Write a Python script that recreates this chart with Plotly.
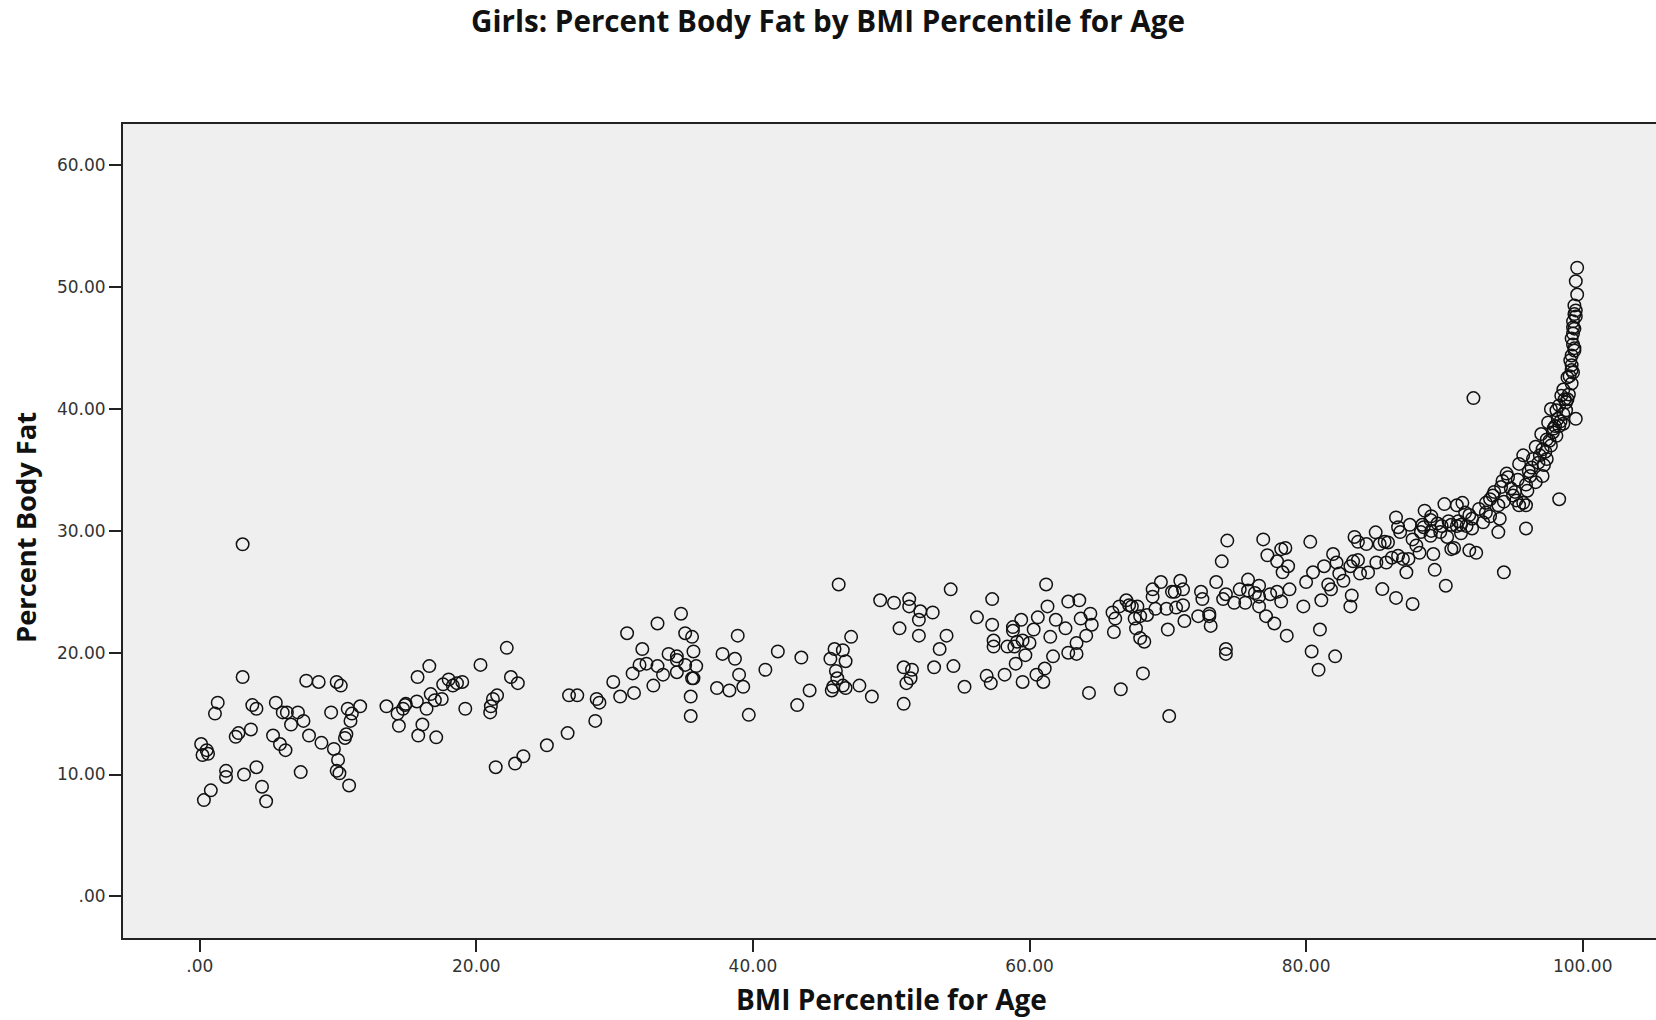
import plotly.graph_objects as go

# ---- data ----
bmi_percentile = [
    # 0-12
    0.1, 0.2, 0.5, 0.6, 0.3, 0.8, 1.1, 1.3, 1.9, 1.9, 2.6, 2.8, 3.1, 3.1, 3.2, 3.7, 3.8, 4.1, 4.1, 4.5,
    4.8, 5.3, 5.5, 5.8, 6.0, 6.2, 6.3, 6.6, 7.1, 7.3, 7.5, 7.7, 7.9, 8.6, 8.8, 9.5, 9.9, 9.7, 10.0, 9.9,
    10.1, 10.2, 10.7, 10.6, 10.5, 10.8, 10.9, 11.0, 11.6,
    # 13-25
    13.5, 14.4, 14.3, 14.7, 14.85, 14.9, 15.7, 15.75, 15.8, 16.1, 16.4, 16.6, 16.7, 17.1, 17.0, 17.5,
    17.6, 18.0, 18.3, 18.6, 18.98, 19.2, 20.3, 21.0, 21.05, 21.2, 21.5, 21.4, 22.2, 22.5, 23.0, 22.8,
    23.4,
    # 25-36
    25.1, 26.6, 26.7, 27.3, 28.6, 28.7, 28.9, 29.9, 30.4, 30.9, 31.3, 31.4, 32.0, 31.8, 32.3, 32.8,
    33.1, 33.1, 33.5, 33.9, 34.5, 34.5, 34.5, 34.8, 35.1, 35.6, 35.1, 35.7, 35.9, 35.6, 35.7, 35.5, 35.5,
    # 36-61
    37.4, 37.8, 38.3, 38.7, 38.9, 39.0, 39.3, 39.7, 40.9, 41.8, 43.2, 43.5, 44.1, 45.7, 45.8, 45.6,
    45.9, 46.0, 46.1, 46.5, 46.7, 46.5, 46.7, 47.1, 47.7, 48.6, 46.2, 49.2, 50.2, 51.3, 51.3, 52.1,
    52.0, 50.6, 52.0, 53.0, 54.3, 54.0, 53.5, 53.1, 54.5, 50.9, 51.5, 51.4, 51.1, 50.9, 55.3, 56.2,
    57.3, 57.3, 57.4, 57.4, 56.9, 57.2, 58.2, 59.5, 59.0, 58.8, 58.8, 59.4, 58.4, 58.9, 59.1, 59.5,
    59.7, 60.0, 60.3, 60.6, 60.5,
    # 61-84
    61.2, 61.3, 62.8, 63.6, 61.9, 62.6, 63.7, 64.4, 64.5, 64.1, 63.4, 63.4, 62.8, 61.7, 61.1, 61.0,
    61.5, 64.3, 66.6, 68.2, 70.1, 66.0, 66.2, 66.1, 66.5, 67.0, 67.2, 67.4, 67.8, 68.0, 68.5, 67.7,
    68.0, 68.3, 67.6, 68.9, 68.9, 69.5, 69.1, 69.9, 70.3, 70.5, 70.9, 71.1, 71.1, 70.6, 71.2, 70.0,
    72.2, 72.4, 72.5, 73.0, 73.1, 73.0, 73.5, 74.0, 74.3, 73.9, 74.2, 74.2, 74.2, 74.8, 75.2, 75.6,
    75.8, 75.8, 76.3, 76.6, 76.6, 76.6, 77.1, 77.7, 78.6, 76.9, 77.2, 77.9, 78.2, 78.5, 78.3, 78.7,
    77.4, 77.9, 78.2, 78.8, 79.8, 80.0, 80.3, 80.5, 81.1, 81.0, 80.4, 80.9, 82.1, 81.3, 81.95, 82.2,
    82.4, 81.6, 81.8, 82.7, 83.2, 83.3, 83.2, 83.5, 83.75, 83.4, 83.75, 83.9,
    # 84-93
    84.36, 85.03, 85.32, 85.68, 85.92, 84.48, 85.08, 85.51, 86.5, 87.7, 85.8, 86.2, 86.65, 86.8, 86.65,
    87.0, 87.25, 87.4, 87.7, 87.97, 88.2, 88.3, 89.05, 89.2, 89.3, 90.1, 89.7, 90.5, 90.7, 90.9, 91.6,
    91.8, 92.3,
    # 86-100 upper curve
    99.6, 99.5, 99.6, 99.4, 99.5, 99.4, 99.3, 99.4, 99.3, 99.2, 99.3, 99.2, 99.1, 99.2, 99.05, 98.9,
    99.2, 92.1, 99.5, 98.6, 98.45, 98.7, 98.3, 98.8, 98.1, 97.7, 98.6, 98.2, 98.0, 97.5, 98.3, 97.85,
    98.1, 97.4, 97.0, 97.7, 97.1, 96.6, 96.9, 97.4, 96.4, 97.1, 96.6, 96.2, 95.7, 95.4, 95.9, 96.0,
    94.5, 94.6, 94.2, 94.1, 93.5, 93.3, 93.0, 93.9, 94.96, 95.2, 95.4, 95.7, 95.9, 98.3, 95.9, 94.3,
    93.9, 91.3, 90.9, 90.0, 92.8, 93.3, 88.57, 89.05, 86.5,
    90.5, 91.0, 91.5, 92.0, 92.5, 91.2, 90.2, 89.8, 89.0, 88.4, 92.0, 93.0, 93.6, 94.0, 94.8, 95.3,
    96.3, 96.8, 97.3, 97.6, 97.9, 98.4, 98.8, 99.0, 98.9, 98.6, 97.2, 96.1, 95.1, 94.3, 99.3, 99.2,
    99.4, 99.3, 99.5, 99.4, 88.5, 89.5, 90.3, 91.2, 91.8, 89.0, 87.5,
]

percent_body_fat = [
    # 0-12
    12.5, 11.6, 12.0, 11.7, 7.9, 8.7, 15.0, 15.9, 10.3, 9.8, 13.1, 13.4, 18.0, 28.9, 10.0, 13.7, 15.7, 15.4, 10.6, 9.0,
    7.8, 13.2, 15.9, 12.5, 15.1, 12.0, 15.1, 14.1, 15.1, 10.2, 14.4, 17.7, 13.2, 17.6, 12.6, 15.1, 17.6, 12.1, 11.2, 10.3,
    10.1, 17.3, 15.4, 13.3, 13.0, 9.1, 14.4, 15.0, 15.6,
    # 13-25
    15.6, 14.0, 15.0, 15.4, 15.7, 15.8, 16.0, 18.0, 13.2, 14.1, 15.4, 18.9, 16.6, 13.05, 16.1, 16.2,
    17.4, 17.8, 17.3, 17.5, 17.6, 15.4, 19.0, 15.1, 15.6, 16.2, 16.5, 10.6, 20.4, 18.0, 17.5, 10.9,
    11.5,
    # 25-36
    12.4, 13.4, 16.5, 16.5, 14.4, 16.2, 15.9, 17.6, 16.4, 21.6, 18.3, 16.7, 20.3, 19.0, 19.1, 17.3,
    22.4, 18.9, 18.2, 19.9, 19.7, 19.4, 18.4, 23.2, 21.6, 21.3, 19.0, 20.1, 18.9, 17.9, 17.9, 16.4, 14.8,
    # 36-61
    17.1, 19.9, 16.9, 19.5, 21.4, 18.2, 17.2, 14.9, 18.6, 20.1, 15.7, 19.6, 16.9, 16.9, 17.2, 19.5,
    20.3, 18.5, 17.9, 20.2, 19.3, 17.3, 17.1, 21.3, 17.3, 16.4, 25.6, 24.3, 24.1, 24.4, 23.8, 23.4,
    22.7, 22.0, 21.4, 23.3, 25.2, 21.4, 20.3, 18.8, 18.9, 18.8, 18.6, 17.9, 17.5, 15.8, 17.2, 22.9,
    24.4, 22.3, 21.0, 20.5, 18.1, 17.5, 18.2, 17.6, 19.1, 22.1, 21.8, 22.7, 20.5, 20.5, 20.9, 21.0,
    19.8, 20.8, 21.9, 22.9, 18.2,
    # 61-84
    25.6, 23.8, 24.2, 24.3, 22.7, 22.0, 22.8, 23.2, 22.3, 21.4, 20.8, 19.9, 20.0, 19.7, 18.7, 17.6,
    21.3, 16.7, 17.0, 18.3, 14.8, 23.3, 22.8, 21.7, 23.8, 24.3, 23.9, 23.8, 23.8, 23.0, 23.1, 22.0,
    21.2, 20.9, 22.8, 25.2, 24.6, 25.8, 23.6, 23.6, 25.0, 25.0, 25.9, 25.2, 23.9, 23.7, 22.6, 21.9,
    23.0, 25.0, 24.4, 23.2, 22.2, 23.0, 25.8, 24.4, 29.2, 27.5, 24.8, 20.3, 19.9, 24.1, 25.2, 24.1,
    26.0, 25.1, 24.9, 25.5, 24.6, 23.8, 23.0, 22.4, 21.4, 29.3, 28.0, 27.5, 28.5, 28.6, 26.6, 27.1,
    24.8, 25.0, 24.2, 25.2, 23.8, 25.8, 29.1, 26.6, 24.3, 21.9, 20.1, 18.6, 19.7, 27.1, 28.1, 27.4,
    26.5, 25.6, 25.2, 25.9, 27.1, 24.7, 23.8, 29.5, 29.1, 27.5, 27.6, 26.5,
    # 84-93
    28.92, 29.88, 28.92, 29.11, 29.05, 26.59, 27.41, 25.22, 24.5, 24.0, 27.4, 27.8, 30.3, 29.9, 27.96,
    27.7, 26.6, 27.7, 29.3, 28.8, 28.2, 29.9, 30.0, 28.1, 26.8, 25.5, 29.9, 28.5, 28.6, 30.4, 30.4,
    28.4, 28.2,
    # 86-100 upper curve
    51.6, 50.5, 49.4, 48.5, 48.1, 47.8, 46.7, 46.6, 46.2, 45.8, 45.3, 44.4, 44.0, 43.6, 42.7, 42.6,
    42.1, 40.9, 39.2, 41.6, 41.1, 40.8, 40.3, 40.55, 39.9, 40.0, 39.6, 39.2, 38.6, 38.9, 38.6, 38.1,
    37.8, 37.5, 37.95, 37.0, 36.7, 36.9, 36.2, 35.9, 35.9, 34.5, 34.0, 34.5, 36.2, 35.5, 33.8, 33.3,
    34.7, 34.4, 34.1, 33.6, 32.9, 32.6, 32.3, 32.1, 32.9, 32.5, 32.1, 32.3, 32.1, 32.6, 30.2, 26.6,
    29.9, 32.3, 32.1, 32.2, 30.7, 31.2, 31.66, 31.2, 31.1,
    30.5, 30.8, 31.5, 31.0, 31.8, 29.8, 29.5, 30.4, 29.6, 30.5, 30.2, 31.5, 33.2, 31.0, 33.5, 34.2,
    35.2, 35.6, 36.5, 37.4, 38.4, 39.0, 39.9, 41.2, 40.8, 38.8, 35.4, 34.9, 33.2, 32.4, 43.0, 43.2,
    45.0, 47.2, 47.6, 44.8, 30.3, 30.6, 30.8, 30.5, 31.3, 30.9, 30.5,
]

x_tick_values = [0, 20, 40, 60, 80, 100]
x_tick_labels = [".00", "20.00", "40.00", "60.00", "80.00", "100.00"]
y_tick_values = [0, 10, 20, 30, 40, 50, 60]
y_tick_labels = [".00", "10.00", "20.00", "30.00", "40.00", "50.00", "60.00"]

chart_title = "Girls: Percent Body Fat by BMI Percentile for Age"
x_title = "BMI Percentile for Age"
y_title = "Percent Body Fat"

# ---- figure ----
fig = go.Figure()
fig.add_trace(go.Scatter(
    x=bmi_percentile,
    y=percent_body_fat,
    mode="markers",
    marker=dict(symbol="circle-open", size=12.5, color="#111111",
                line=dict(width=1.5, color="#111111")),
    hoverinfo="x+y",
    showlegend=False,
))

tick_font = dict(family="DejaVu Sans", size=17, color="#333333")
main_title_font = dict(family="Open Sans", size=29.6, color="#111111", weight="bold")
x_title_font = dict(family="Open Sans", size=28, color="#111111", weight="bold")
y_title_font = dict(family="Open Sans", size=27.3, color="#111111", weight="bold")

fig.update_layout(
    width=1656,
    height=1020,
    margin=dict(l=123, r=0, t=124, b=82, pad=0),
    paper_bgcolor="white",
    plot_bgcolor="#efefef",
    title=dict(text=chart_title, font=main_title_font, x=0.5, xref="container",
               xanchor="center", y=1 - 22 / 1020, yref="container", yanchor="middle"),
    xaxis=dict(
        range=[-5.55, 105.3],
        tickvals=x_tick_values,
        ticktext=x_tick_labels,
        ticks="outside", ticklen=12, tickwidth=2, tickcolor="#222222",
        tickfont=tick_font,
        showgrid=False, zeroline=False,
        showline=True, linecolor="#222222", linewidth=2, mirror=True,
    ),
    yaxis=dict(
        range=[-3.42, 63.4],
        tickvals=y_tick_values,
        ticktext=y_tick_labels,
        ticks="outside", ticklen=12, tickwidth=2, tickcolor="#222222",
        tickfont=tick_font,
        showgrid=False, zeroline=False,
        showline=True, linecolor="#222222", linewidth=2, mirror=False,
    ),
    annotations=[
        dict(text=x_title, xref="paper", yref="paper", x=(891 - 123) / 1533,
             y=(938 - 999) / 814, xanchor="center", yanchor="middle",
             showarrow=False, font=x_title_font),
        dict(text=y_title, xref="paper", yref="paper", x=(25 - 123) / 1533,
             y=(938 - 528) / 814, xanchor="center", yanchor="middle",
             textangle=-90, showarrow=False, font=y_title_font),
    ],
)

fig.write_html("out.html")
